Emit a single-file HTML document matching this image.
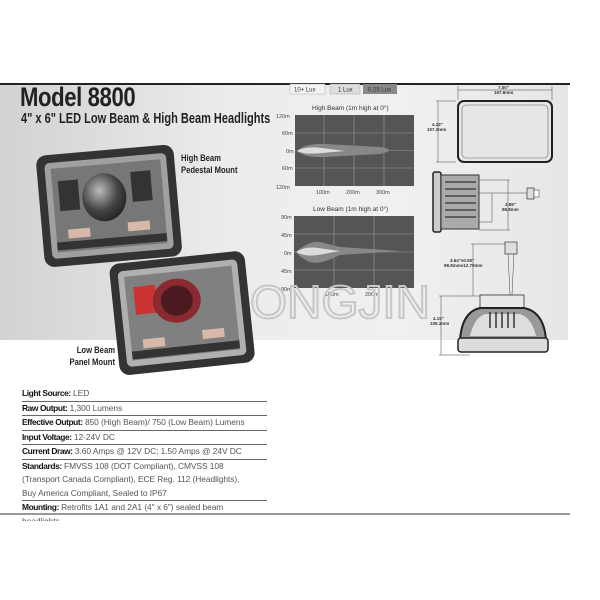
<!DOCTYPE html>
<html><head><meta charset="utf-8"><style>
body{margin:0;width:600px;height:600px;background:#fff;overflow:hidden;position:relative;font-family:"Liberation Sans",sans-serif}
.abs{position:absolute}
.spec{position:absolute;left:22px;width:245px;font-size:8.4px;color:#555;line-height:13.5px;letter-spacing:-0.05px}
.spec div{border-bottom:1.3px solid #666;white-space:nowrap}
.spec b{color:#111;font-weight:bold;letter-spacing:-0.4px}
</style></head><body>
<div class="abs" style="left:0;top:84px;width:568px;height:256px;background:linear-gradient(90deg,#d2d2d2 0%,#ececec 40%,#f0f0f0 70%,#e6e6e6 100%)"></div>
<div class="abs" style="left:0;top:83px;width:570px;height:1.5px;background:#222"></div>
<div class="abs" style="left:20px;top:82px;font-size:27px;font-weight:bold;color:#222;transform:scaleX(.82);transform-origin:left;letter-spacing:-0.5px;white-space:nowrap">Model 8800</div>
<div class="abs" style="left:21px;top:111px;font-size:14.5px;font-weight:bold;color:#222;transform:scaleX(.76);transform-origin:left;white-space:nowrap">4" x 6" LED Low Beam &amp; High Beam Headlights</div>
<div class="abs" style="left:181px;top:152px;font-size:9px;font-weight:bold;color:#222;line-height:12px;transform:scaleX(.85);transform-origin:left;white-space:nowrap">High Beam<br>Pedestal Mount</div>
<div class="abs" style="left:40px;top:344px;font-size:9px;font-weight:bold;color:#222;line-height:12px;text-align:right;width:75px;white-space:nowrap;transform:scaleX(.85);transform-origin:right">Low Beam<br>Panel Mount</div>
<svg class="abs" style="left:0;top:0" width="600" height="600">
<defs><radialGradient id="lens" cx=".4" cy=".35" r=".7"><stop offset="0" stop-color="#bbb"/><stop offset=".6" stop-color="#444"/><stop offset="1" stop-color="#222"/></radialGradient></defs>
<g transform="rotate(-5 108 205)">
<rect x="40" y="150" width="138" height="112" rx="10" fill="#333"/>
<rect x="48" y="158" width="122" height="96" rx="5" fill="#a0a0a0"/>
<rect x="54" y="164" width="110" height="84" fill="#777"/>
<ellipse cx="105" cy="197" rx="22" ry="24" fill="url(#lens)"/>
<rect x="60" y="177" width="20" height="30" fill="#333"/><rect x="133" y="174" width="20" height="30" fill="#333"/>
<rect x="66" y="226" width="22" height="9" fill="#d8b8a8"/><rect x="126" y="224" width="22" height="9" fill="#d8b8a8"/>
<rect x="54" y="238" width="110" height="8" fill="#333"/>
</g>
<g transform="rotate(-6 183 312)">
<rect x="114" y="257" width="136" height="112" rx="10" fill="#333"/>
<rect x="122" y="265" width="120" height="96" rx="5" fill="#b0b0b0"/>
<rect x="128" y="271" width="108" height="84" fill="#808080"/>
<rect x="136" y="282" width="22" height="28" fill="#c33"/>
<ellipse cx="178" cy="300" rx="24" ry="22" fill="#8a2a30"/>
<ellipse cx="178" cy="300" rx="16" ry="15" fill="#4a1a20"/>
<rect x="140" y="335" width="22" height="9" fill="#d8b8a8"/><rect x="200" y="332" width="22" height="9" fill="#d8b8a8"/>
<rect x="128" y="346" width="108" height="8" fill="#333"/>
</g>
<rect x="290" y="84" width="35" height="10" fill="#f4f4f4" stroke="#aaa" stroke-width=".5"/>
<rect x="330" y="84" width="30" height="10" fill="#ddd" stroke="#aaa" stroke-width=".5"/>
<rect x="363" y="84" width="34" height="10" fill="#888"/>
<g font-size="6" fill="#333" font-family="Liberation Sans"><text x="294" y="91.5">10+ Lux</text><text x="338" y="91.5">1 Lux</text><text x="368" y="91.5" fill="#333">0.25 Lux</text></g>
<text x="312" y="110" font-size="6.5" fill="#333">High Beam (1m high at 0°)</text>
<rect x="295" y="115" width="119" height="71" fill="#555"/>
<g stroke="#999" stroke-width=".6"><line x1="295" x2="414" y1="133" y2="133"/><line x1="295" x2="414" y1="150.5" y2="150.5"/><line x1="295" x2="414" y1="168" y2="168"/><line x1="324" x2="324" y1="115" y2="186"/><line x1="354" x2="354" y1="115" y2="186"/><line x1="384" x2="384" y1="115" y2="186"/></g>
<path d="M297 151 Q305 143 325 144 L380 147 Q398 150 380 154 L325 157 Q305 158 297 151Z" fill="#888"/>
<path d="M297 151 Q305 146 322 148 L345 151 L322 153 Q305 155 297 151Z" fill="#ddd"/>
<g font-size="5.5" fill="#444"><text x="276" y="118">120m</text><text x="282" y="135">60m</text><text x="286" y="153">0m</text><text x="282" y="170">60m</text><text x="276" y="189">120m</text><text x="316" y="194">100m</text><text x="346" y="194">200m</text><text x="376" y="194">300m</text></g>
<text x="313" y="211" font-size="6.5" fill="#333">Low Beam (1m high at 0°)</text>
<rect x="294" y="216" width="120" height="72" fill="#555"/>
<g stroke="#999" stroke-width=".6"><line x1="294" x2="414" y1="234" y2="234"/><line x1="294" x2="414" y1="252" y2="252"/><line x1="294" x2="414" y1="270" y2="270"/><line x1="334" x2="334" y1="216" y2="288"/><line x1="374" x2="374" y1="216" y2="288"/></g>
<path d="M296 252 Q310 240 320 242 L340 247 L400 251 L340 255 Q320 265 310 262 Q300 258 296 252Z" fill="#888"/>
<path d="M296 252 Q305 246 318 248 L340 251 L318 255 Q305 257 296 252Z" fill="#ddd"/>
<g font-size="5.5" fill="#444"><text x="281" y="219">90m</text><text x="281" y="237">45m</text><text x="284" y="255">0m</text><text x="281" y="273">45m</text><text x="281" y="291">90m</text><text x="325" y="296">100m</text><text x="365" y="296">200m</text></g>
<text x="250" y="318" font-size="46" fill="none" stroke="#c8c8c8" stroke-width="2" font-family="Liberation Sans" textLength="180" lengthAdjust="spacingAndGlyphs">ONGJIN</text>
<rect x="458" y="101" width="94" height="61" rx="6" fill="#e6e6e6" stroke="#222" stroke-width="2"/>
<rect x="462" y="105" width="86" height="53" rx="4" fill="none" stroke="#666" stroke-width=".6"/>
<g stroke="#444" stroke-width=".5" fill="none"><line x1="458" y1="90" x2="552" y2="90"/><line x1="458" y1="86" x2="458" y2="100"/><line x1="552" y1="86" x2="552" y2="100"/><line x1="438" y1="101" x2="438" y2="162"/><line x1="436" y1="101" x2="456" y2="101"/><line x1="436" y1="162" x2="456" y2="162"/></g>
<g font-size="4.5" fill="#333" font-weight="bold"><text x="498" y="89">7.00"</text><text x="494" y="94">167.6mm</text><text x="432" y="126">4.22"</text><text x="427" y="131">107.2mm</text>
<text x="505" y="206">3.89"</text><text x="502" y="211">98.8mm</text><text x="450" y="262">3.64"±0.50"</text><text x="444" y="267">98.8mm±12.70mm</text><text x="433" y="320">4.15"</text><text x="430" y="325">105.3mm</text></g>
<rect x="433" y="172" width="8" height="60" rx="2" fill="#ccc" stroke="#222" stroke-width="1.5"/>
<rect x="441" y="175" width="38" height="54" fill="#aaa" stroke="#333" stroke-width="1"/>
<g stroke="#333" stroke-width="1.2"><line x1="445" y1="182" x2="476" y2="182"/><line x1="445" y1="189" x2="476" y2="189"/><line x1="445" y1="196" x2="476" y2="196"/><line x1="445" y1="203" x2="476" y2="203"/><line x1="445" y1="210" x2="476" y2="210"/><line x1="445" y1="217" x2="476" y2="217"/></g>
<g stroke="#444" stroke-width=".5" fill="none"><line x1="479" y1="180" x2="510" y2="180"/><line x1="479" y1="230" x2="510" y2="230"/><line x1="508" y1="180" x2="508" y2="230"/><path d="M479 193 H492 V222 H479"/><line x1="492" y1="193" x2="527" y2="193"/></g>
<rect x="527" y="188" width="7" height="11" fill="#ddd" stroke="#333" stroke-width=".7"/><rect x="534" y="190" width="5" height="7" fill="#fff" stroke="#333" stroke-width=".5"/>
<g stroke="#444" stroke-width=".5" fill="none"><line x1="473" y1="244" x2="473" y2="296"/><line x1="471" y1="244" x2="510" y2="244"/><line x1="441" y1="296" x2="441" y2="355"/><line x1="439" y1="296" x2="480" y2="296"/><line x1="439" y1="355" x2="470" y2="355"/><line x1="508" y1="252" x2="510" y2="295"/><line x1="514" y1="252" x2="512" y2="295"/></g>
<rect x="505" y="242" width="12" height="12" fill="#ddd" stroke="#333" stroke-width=".7"/>
<rect x="480" y="295" width="44" height="13" fill="#e8e8e8" stroke="#333" stroke-width=".8"/>
<path d="M460 340 Q462 312 480 308 H524 Q544 312 546 340 Z" fill="#999" stroke="#222" stroke-width="2"/>
<path d="M470 336 Q474 318 485 314 H520 Q532 318 536 336Z" fill="#ddd"/>
<g stroke="#333" stroke-width="1.5"><line x1="490" y1="312" x2="490" y2="328"/><line x1="496" y1="312" x2="496" y2="328"/><line x1="502" y1="312" x2="502" y2="328"/><line x1="508" y1="312" x2="508" y2="328"/><line x1="514" y1="312" x2="514" y2="328"/></g>
<rect x="458" y="338" width="90" height="14" rx="3" fill="#ddd" stroke="#222" stroke-width="1.5"/>
<line x1="0" y1="514" x2="570" y2="514" stroke="#333" stroke-width="1"/>
</svg>
<div class="spec" style="top:387px">
<div><b>Light Source:</b> LED</div>
<div><b>Raw Output:</b> 1,300 Lumens</div>
<div><b>Effective Output:</b> 850 (High Beam)/ 750 (Low Beam) Lumens</div>
<div><b>Input Voltage:</b> 12-24V DC</div>
<div><b>Current Draw:</b> 3.60 Amps @ 12V DC; 1.50 Amps @ 24V DC</div>
<div><b>Standards:</b> FMVSS 108 (DOT Compliant), CMVSS 108<br>(Transport Canada Compliant), ECE Reg. 112 (Headlights),<br>Buy America Compliant, Sealed to IP67</div>
<div style="border:none;height:20px;overflow:hidden"><b>Mounting:</b> Retrofits 1A1 and 2A1 (4" x 6") sealed beam<br>headlights</div>
</div>
</body></html>
